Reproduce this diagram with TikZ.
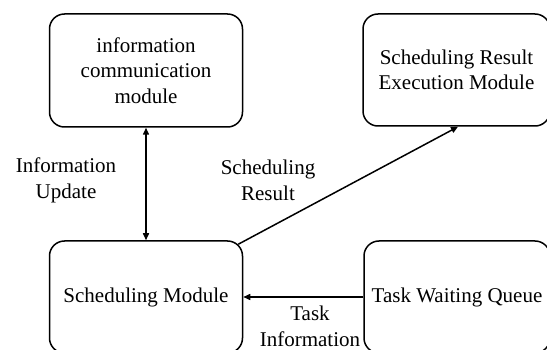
\documentclass[tikz,border=0pt]{standalone}
\usepackage{fontspec}
\setmainfont{Liberation Serif}
\usetikzlibrary{arrows.meta}
\begin{document}
\begin{tikzpicture}[x=1pt,y=-1pt,
  box/.style={draw,line width=1.5pt,rounded corners=15pt,align=center,inner sep=0pt,
    font=\fontsize{21}{25.5}\selectfont},
  lbl/.style={align=center,inner sep=0pt,font=\fontsize{21}{26}\selectfont},
  conn/.style={line width=1.5pt,-{Triangle[length=7pt,width=6pt]}},
  bconn/.style={line width=1.5pt,{Triangle[length=7pt,width=6pt]}-{Triangle[length=7pt,width=6pt]}}]
\useasboundingbox (0,0) rectangle (547,350);
\clip (0,0) rectangle (547,350);
\node[box,minimum width=193pt,minimum height=113pt] (info) at (146,70.5) {information\\communication\\module};
\node[box,minimum width=187pt,minimum height=112pt] (exec) at (456.5,70) {Scheduling Result\\Execution Module};
\node[box,minimum width=193pt,minimum height=112pt] (sched) at (146,297) {Scheduling Module};
\node[box,minimum width=186pt,minimum height=112pt] (queue) at (457,297) {Task Waiting Queue};
\draw[bconn] (info.south) -- (sched.north);
\coordinate (sr) at ([xshift=-5pt,yshift=-4pt]sched.north east);
\draw[conn] (sr) -- ([xshift=1.5pt]exec.south);
\draw[conn] (queue.west) -- (sched.east);
\node[lbl] (l1) at (66,180) {Information\\Update};
\node[lbl] (l2) at (268,180) {Scheduling\\Result};
\node[lbl] (l3) at (310,326) {Task\\Information};
\end{tikzpicture}
\end{document}
